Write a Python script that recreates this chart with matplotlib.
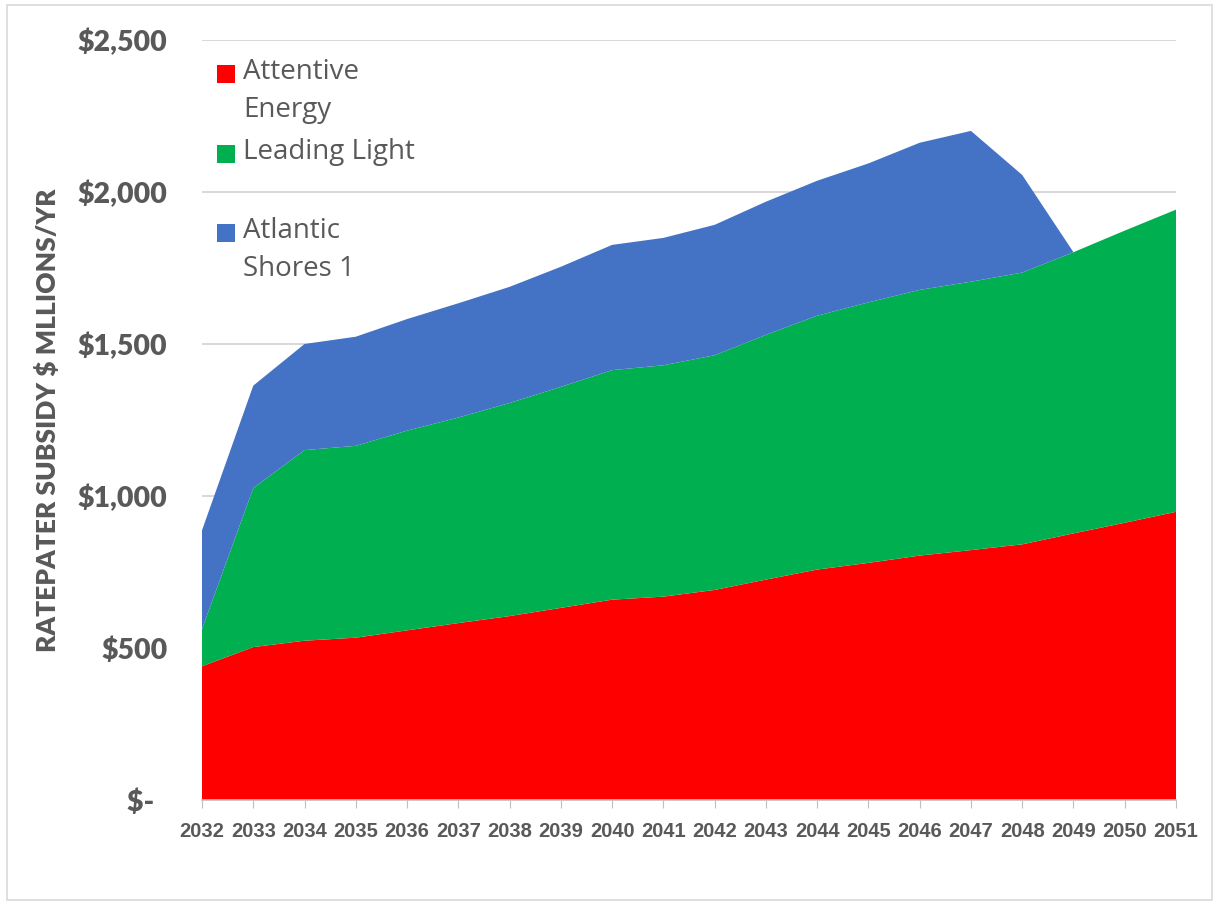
import matplotlib
matplotlib.use("Agg")
import matplotlib.pyplot as plt
from matplotlib.patches import Rectangle
import numpy as np

years = list(range(2032, 2052))
attentive_energy = [440, 503, 524, 534, 558, 582, 605, 632, 659, 669, 691, 725, 758, 780, 804, 822, 841, 877, 912, 948]
leading_light = [122, 523, 627, 631, 657, 676, 701, 727, 755, 761, 772, 805, 835, 857, 874, 883, 894, 925, 961, 994]
atlantic_shores_1 = [325, 337, 349, 359, 367, 376, 382, 395, 412, 419, 429, 438, 444, 457, 484, 496, 321, 0, 0, 0]
series_names = ["Attentive\nEnergy", "Leading Light", "Atlantic\nShores 1"]
colors = ["#ff0000", "#00b050", "#4472c4"]
ytick_vals = [0, 500, 1000, 1500, 2000, 2500]
ytick_labels = ["$-  ", "$500", "$1,000", "$1,500", "$2,000", "$2,500"]

W, H = 1219, 907
fig = plt.figure(figsize=(W / 100, H / 100), dpi=100)
x0, x1, ytop, ybot = 202, 1176, 40, 800
ax = fig.add_axes([x0 / W, 1 - ybot / H, (x1 - x0) / W, (ybot - ytop) / H])

ax.stackplot(years, attentive_energy, leading_light, atlantic_shores_1,
             colors=colors, linewidth=0, zorder=2)

ax.set_xlim(2032, 2051)
ax.set_ylim(0, 2500)
ax.set_yticks(ytick_vals)
ax.set_yticklabels(ytick_labels)
ax.set_xticks(years)
ax.set_xticklabels([str(y) for y in years])

gray = "#595959"
for lab in ax.get_yticklabels():
    lab.set_fontfamily(["Lato", "DejaVu Sans"])
    lab.set_fontweight("heavy")
    lab.set_fontsize(20.5)
    lab.set_color(gray)
for lab in ax.get_xticklabels():
    lab.set_fontfamily(["Liberation Sans", "DejaVu Sans"])
    lab.set_fontweight("bold")
    lab.set_fontsize(14.5)
    lab.set_color(gray)

ax.tick_params(axis="y", length=0, pad=25)
ax.tick_params(axis="x", length=6, color="#bfbfbf", pad=10, direction="out")
ax.grid(axis="y", color="#d9d9d9", linewidth=1.5, zorder=0)
ax.set_axisbelow(True)
for s in ["left", "right", "top"]:
    ax.spines[s].set_visible(False)
ax.spines["bottom"].set_color("#bfbfbf")
ax.spines["bottom"].set_linewidth(1.2)
ax.spines["bottom"].set_zorder(3)

fig.text(48 / W, 1 - 420 / H, "RATEPATER SUBSIDY $ MLLIONS/YR", rotation=90,
         ha="center", va="center", fontsize=19, fontweight="heavy", color=gray,
         family=["Lato", "DejaVu Sans"])

# Legend (drawn manually to mimic layout)
leg_entries = [(74, series_names[0]), (154, series_names[1]), (233, series_names[2])]
for (yc, name), col in zip(leg_entries, colors):
    fig.patches.append(Rectangle((217 / W, 1 - (yc + 9) / H), 18 / W, 18 / H,
                                 transform=fig.transFigure, facecolor=col,
                                 edgecolor="none"))
    fig.text(243 / W, 1 - (yc - 16) / H, name, ha="left", va="top",
             fontsize=20, color=gray, family=["Open Sans", "DejaVu Sans"],
             linespacing=1.5)

# outer chart border
fig.patches.append(Rectangle((7 / W, 1 - 900 / H), 1205 / W, 895 / H,
                             transform=fig.transFigure, facecolor="none",
                             edgecolor="#d9d9d9", linewidth=1.2))

fig.savefig("out.png", dpi=100)
